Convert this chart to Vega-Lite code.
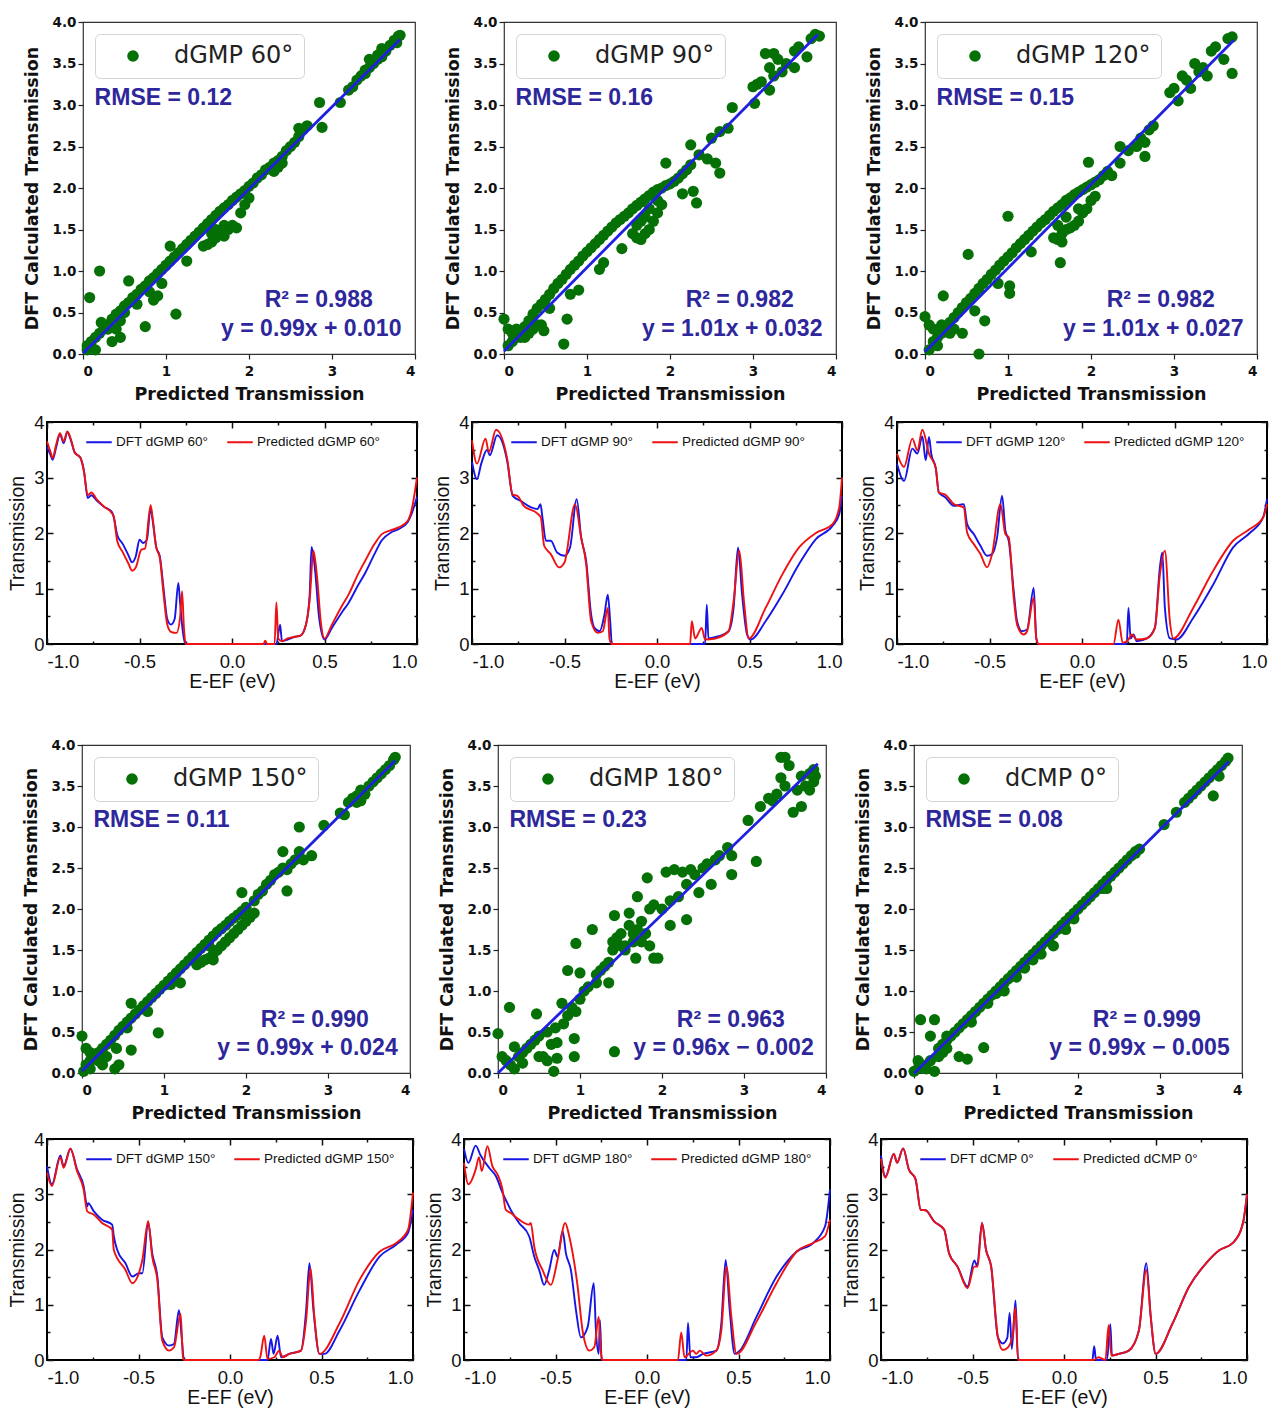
{
"$schema": "https://vega.github.io/schema/vega-lite/v6.json",
"padding": {"left": 6, "top": 14, "right": 2, "bottom": 2},
"background": "white",
"config": {
  "font": "Liberation Sans",
  "axis": {"grid": false},
  "style": {
    "sx": {"labelFont": "DejaVu Sans", "labelFontWeight": "bold", "labelFontSize": 13.5, "labelColor": "#111", "tickSize": 5, "tickColor": "#222", "tickWidth": 1.2, "domain": false, "labelPadding": 5, "titleFont": "DejaVu Sans", "titleFontSize": 17.5, "titleFontWeight": "bold", "titleColor": "#111", "titlePadding": 8},
    "sy": {"labelFont": "DejaVu Sans", "labelFontWeight": "bold", "labelFontSize": 13.5, "labelColor": "#111", "tickSize": 5, "tickColor": "#222", "tickWidth": 1.2, "domain": false, "labelPadding": 2, "titleFont": "DejaVu Sans", "titleFontSize": 17.5, "titleFontWeight": "bold", "titleColor": "#111", "titlePadding": 11},
    "lx": {"labelFont": "Liberation Sans", "labelFontSize": 18.5, "labelColor": "#111", "tickColor": "#111", "tickWidth": 1.5, "domain": false, "labelPadding": 14, "titleFont": "Liberation Sans", "titleFontSize": 19.5, "titleFontWeight": "normal", "titleColor": "#111", "titlePadding": 2},
    "ly": {"labelFont": "Liberation Sans", "labelFontSize": 18.5, "labelColor": "#111", "tickColor": "#111", "tickWidth": 1.5, "domain": false, "labelPadding": 9, "titleFont": "Liberation Sans", "titleFontSize": 19.5, "titleFontWeight": "normal", "titleColor": "#111", "titlePadding": 6}
  },
  "legend": {"orient": "top-left", "offset": 12, "padding": 10, "fillColor": "white", "strokeColor": "#d4d4d4", "cornerRadius": 5, "symbolOffset": 16, "labelOffset": 29, "labelFont": "DejaVu Sans", "labelFontSize": 24, "labelColor": "#222", "symbolSize": 135, "symbolType": "circle"}
},
"datasets": {
"s60": [{"x":0.05,"y":0.1},{"x":0.1,"y":0.15},{"x":0.15,"y":0.2},{"x":0.2,"y":0.25},{"x":0.25,"y":0.3},{"x":0.3,"y":0.35},{"x":0.35,"y":0.42},{"x":0.4,"y":0.48},{"x":0.45,"y":0.52},{"x":0.5,"y":0.58},{"x":0.55,"y":0.62},{"x":0.6,"y":0.68},{"x":0.65,"y":0.72},{"x":0.7,"y":0.78},{"x":0.75,"y":0.82},{"x":0.8,"y":0.88},{"x":0.85,"y":0.92},{"x":0.9,"y":0.97},{"x":0.95,"y":1.02},{"x":1.0,"y":1.07},{"x":1.05,"y":1.12},{"x":1.1,"y":1.17},{"x":1.15,"y":1.22},{"x":1.2,"y":1.27},{"x":1.25,"y":1.32},{"x":1.3,"y":1.37},{"x":1.35,"y":1.42},{"x":1.4,"y":1.47},{"x":1.45,"y":1.52},{"x":1.5,"y":1.57},{"x":1.55,"y":1.62},{"x":1.6,"y":1.67},{"x":1.65,"y":1.72},{"x":1.7,"y":1.76},{"x":1.75,"y":1.8},{"x":1.8,"y":1.85},{"x":1.85,"y":1.89},{"x":1.9,"y":1.93},{"x":1.95,"y":1.97},{"x":2.0,"y":2.02},{"x":2.05,"y":2.06},{"x":2.1,"y":2.12},{"x":2.15,"y":2.16},{"x":2.2,"y":2.22},{"x":2.25,"y":2.25},{"x":2.3,"y":2.3},{"x":2.35,"y":2.33},{"x":2.4,"y":2.38},{"x":2.45,"y":2.45},{"x":2.5,"y":2.5},{"x":2.55,"y":2.55},{"x":2.6,"y":2.62},{"x":1.45,"y":1.3},{"x":1.5,"y":1.32},{"x":1.55,"y":1.35},{"x":1.6,"y":1.4},{"x":1.65,"y":1.45},{"x":1.7,"y":1.42},{"x":1.75,"y":1.5},{"x":1.8,"y":1.55},{"x":1.85,"y":1.52},{"x":1.9,"y":1.7},{"x":1.95,"y":1.8},{"x":1.7,"y":1.55},{"x":1.6,"y":1.5},{"x":2.0,"y":1.88},{"x":1.55,"y":1.45},{"x":2.35,"y":2.25},{"x":2.4,"y":2.3},{"x":2.3,"y":2.2},{"x":2.6,"y":2.72},{"x":2.65,"y":2.7},{"x":2.7,"y":2.75},{"x":0.08,"y":0.68},{"x":0.2,"y":1.0},{"x":0.55,"y":0.88},{"x":0.75,"y":0.33},{"x":1.12,"y":0.48},{"x":1.25,"y":1.12},{"x":0.45,"y":0.2},{"x":0.35,"y":0.15},{"x":0.85,"y":0.65},{"x":0.95,"y":0.85},{"x":0.65,"y":0.6},{"x":0.22,"y":0.38},{"x":0.45,"y":0.4},{"x":0.5,"y":0.5},{"x":0.3,"y":0.3},{"x":1.05,"y":1.3},{"x":0.8,"y":0.75},{"x":0.9,"y":0.7},{"x":2.85,"y":3.03},{"x":2.88,"y":2.73},{"x":3.1,"y":3.03},{"x":0.05,"y":0.05},{"x":0.15,"y":0.05},{"x":0.4,"y":0.3},{"x":3.2,"y":3.18},{"x":3.25,"y":3.22},{"x":3.3,"y":3.3},{"x":3.35,"y":3.35},{"x":3.4,"y":3.42},{"x":3.45,"y":3.45},{"x":3.45,"y":3.55},{"x":3.5,"y":3.5},{"x":3.55,"y":3.6},{"x":3.6,"y":3.68},{"x":3.6,"y":3.58},{"x":3.65,"y":3.65},{"x":3.7,"y":3.72},{"x":3.75,"y":3.78},{"x":3.8,"y":3.83},{"x":3.78,"y":3.75},{"x":3.82,"y":3.84},{"x":3.4,"y":3.38},{"x":3.55,"y":3.55}],
"s90": [{"x":0.05,"y":0.1},{"x":0.1,"y":0.15},{"x":0.15,"y":0.2},{"x":0.2,"y":0.27},{"x":0.25,"y":0.33},{"x":0.3,"y":0.4},{"x":0.35,"y":0.48},{"x":0.4,"y":0.55},{"x":0.45,"y":0.6},{"x":0.5,"y":0.66},{"x":0.55,"y":0.72},{"x":0.6,"y":0.79},{"x":0.65,"y":0.85},{"x":0.7,"y":0.9},{"x":0.75,"y":0.96},{"x":0.8,"y":1.02},{"x":0.85,"y":1.07},{"x":0.9,"y":1.12},{"x":0.95,"y":1.18},{"x":1.0,"y":1.23},{"x":1.05,"y":1.28},{"x":1.1,"y":1.33},{"x":1.15,"y":1.38},{"x":1.2,"y":1.43},{"x":1.25,"y":1.48},{"x":1.3,"y":1.53},{"x":1.35,"y":1.58},{"x":1.4,"y":1.62},{"x":1.45,"y":1.66},{"x":1.5,"y":1.7},{"x":1.55,"y":1.75},{"x":1.6,"y":1.79},{"x":1.65,"y":1.83},{"x":1.7,"y":1.87},{"x":1.75,"y":1.91},{"x":1.8,"y":1.95},{"x":1.85,"y":1.98},{"x":1.9,"y":2.0},{"x":1.95,"y":2.03},{"x":2.0,"y":2.05},{"x":2.05,"y":2.08},{"x":2.1,"y":2.12},{"x":2.15,"y":2.17},{"x":2.2,"y":2.22},{"x":2.25,"y":2.28},{"x":1.55,"y":1.45},{"x":1.6,"y":1.4},{"x":1.65,"y":1.38},{"x":1.7,"y":1.45},{"x":1.75,"y":1.5},{"x":1.8,"y":1.6},{"x":1.85,"y":1.7},{"x":1.9,"y":1.8},{"x":1.6,"y":1.55},{"x":1.65,"y":1.6},{"x":1.7,"y":1.65},{"x":1.75,"y":1.75},{"x":1.85,"y":1.85},{"x":0.2,"y":0.2},{"x":0.3,"y":0.25},{"x":0.4,"y":0.35},{"x":0.0,"y":0.42},{"x":0.05,"y":0.3},{"x":0.1,"y":0.25},{"x":0.15,"y":0.3},{"x":0.3,"y":0.28},{"x":0.45,"y":0.35},{"x":0.48,"y":0.28},{"x":0.55,"y":0.55},{"x":0.72,"y":0.12},{"x":0.76,"y":0.42},{"x":0.8,"y":0.72},{"x":0.9,"y":0.77},{"x":1.15,"y":1.02},{"x":1.2,"y":1.1},{"x":1.42,"y":1.27},{"x":1.95,"y":2.3},{"x":2.15,"y":1.93},{"x":2.28,"y":1.96},{"x":2.32,"y":1.82},{"x":2.25,"y":2.52},{"x":2.35,"y":2.4},{"x":2.45,"y":2.35},{"x":2.55,"y":2.3},{"x":2.6,"y":2.18},{"x":2.5,"y":2.6},{"x":2.6,"y":2.68},{"x":2.7,"y":2.72},{"x":2.75,"y":2.97},{"x":3.0,"y":3.22},{"x":3.05,"y":3.25},{"x":3.1,"y":3.28},{"x":3.15,"y":3.62},{"x":3.25,"y":3.62},{"x":3.2,"y":3.45},{"x":3.2,"y":3.18},{"x":3.3,"y":3.55},{"x":3.35,"y":3.4},{"x":3.25,"y":3.35},{"x":3.5,"y":3.65},{"x":3.55,"y":3.7},{"x":3.5,"y":3.45},{"x":3.65,"y":3.58},{"x":3.7,"y":3.8},{"x":3.75,"y":3.85},{"x":3.8,"y":3.83},{"x":3.02,"y":3.02},{"x":3.4,"y":3.5},{"x":0.25,"y":0.2},{"x":0.35,"y":0.3}],
"s120": [{"x":0.1,"y":0.15},{"x":0.15,"y":0.2},{"x":0.2,"y":0.25},{"x":0.25,"y":0.32},{"x":0.3,"y":0.38},{"x":0.35,"y":0.44},{"x":0.4,"y":0.5},{"x":0.45,"y":0.56},{"x":0.5,"y":0.62},{"x":0.55,"y":0.67},{"x":0.6,"y":0.73},{"x":0.65,"y":0.79},{"x":0.7,"y":0.85},{"x":0.75,"y":0.9},{"x":0.8,"y":0.96},{"x":0.85,"y":1.01},{"x":0.9,"y":1.07},{"x":0.95,"y":1.12},{"x":1.0,"y":1.17},{"x":1.05,"y":1.22},{"x":1.1,"y":1.28},{"x":1.15,"y":1.33},{"x":1.2,"y":1.38},{"x":1.25,"y":1.43},{"x":1.3,"y":1.48},{"x":1.35,"y":1.53},{"x":1.4,"y":1.58},{"x":1.45,"y":1.62},{"x":1.5,"y":1.67},{"x":1.55,"y":1.72},{"x":1.6,"y":1.76},{"x":1.65,"y":1.8},{"x":1.7,"y":1.85},{"x":1.75,"y":1.88},{"x":1.8,"y":1.92},{"x":1.85,"y":1.95},{"x":1.9,"y":1.98},{"x":1.95,"y":2.01},{"x":2.0,"y":2.04},{"x":2.05,"y":2.07},{"x":2.1,"y":2.1},{"x":2.15,"y":2.15},{"x":2.2,"y":2.2},{"x":1.55,"y":1.4},{"x":1.6,"y":1.38},{"x":1.65,"y":1.45},{"x":1.7,"y":1.5},{"x":1.75,"y":1.52},{"x":1.8,"y":1.55},{"x":1.85,"y":1.6},{"x":1.9,"y":1.7},{"x":1.95,"y":1.75},{"x":2.0,"y":1.85},{"x":2.05,"y":1.9},{"x":1.7,"y":1.65},{"x":1.85,"y":1.75},{"x":1.65,"y":1.35},{"x":1.63,"y":1.1},{"x":1.6,"y":1.55},{"x":0.0,"y":0.45},{"x":0.05,"y":0.35},{"x":0.1,"y":0.3},{"x":0.2,"y":0.35},{"x":0.22,"y":0.7},{"x":0.25,"y":0.28},{"x":0.35,"y":0.3},{"x":0.45,"y":0.25},{"x":0.52,"y":1.2},{"x":0.6,"y":0.52},{"x":0.72,"y":0.4},{"x":0.65,"y":0.0},{"x":0.88,"y":0.85},{"x":1.0,"y":1.66},{"x":1.02,"y":0.82},{"x":1.02,"y":0.73},{"x":1.28,"y":1.23},{"x":1.97,"y":2.31},{"x":2.25,"y":2.15},{"x":2.35,"y":2.3},{"x":2.35,"y":2.5},{"x":2.45,"y":2.45},{"x":2.55,"y":2.5},{"x":2.6,"y":2.6},{"x":2.65,"y":2.55},{"x":2.65,"y":2.38},{"x":2.7,"y":2.7},{"x":2.75,"y":2.75},{"x":2.95,"y":3.15},{"x":3.0,"y":3.2},{"x":3.05,"y":3.05},{"x":3.1,"y":3.35},{"x":3.15,"y":3.3},{"x":3.2,"y":3.2},{"x":3.25,"y":3.5},{"x":3.3,"y":3.4},{"x":3.35,"y":3.45},{"x":3.4,"y":3.35},{"x":3.45,"y":3.65},{"x":3.5,"y":3.7},{"x":3.6,"y":3.55},{"x":3.65,"y":3.8},{"x":3.7,"y":3.82},{"x":3.7,"y":3.38},{"x":0.05,"y":0.05},{"x":0.15,"y":0.1},{"x":0.3,"y":0.25}],
"s150": [{"x":0.05,"y":0.1},{"x":0.1,"y":0.15},{"x":0.15,"y":0.2},{"x":0.2,"y":0.25},{"x":0.25,"y":0.3},{"x":0.3,"y":0.35},{"x":0.35,"y":0.4},{"x":0.4,"y":0.46},{"x":0.45,"y":0.52},{"x":0.5,"y":0.57},{"x":0.55,"y":0.62},{"x":0.6,"y":0.67},{"x":0.65,"y":0.72},{"x":0.7,"y":0.77},{"x":0.75,"y":0.82},{"x":0.8,"y":0.87},{"x":0.85,"y":0.92},{"x":0.9,"y":0.97},{"x":0.95,"y":1.02},{"x":1.0,"y":1.07},{"x":1.05,"y":1.12},{"x":1.1,"y":1.17},{"x":1.15,"y":1.22},{"x":1.2,"y":1.27},{"x":1.25,"y":1.32},{"x":1.3,"y":1.37},{"x":1.35,"y":1.42},{"x":1.4,"y":1.47},{"x":1.45,"y":1.52},{"x":1.5,"y":1.57},{"x":1.55,"y":1.62},{"x":1.6,"y":1.67},{"x":1.65,"y":1.72},{"x":1.7,"y":1.76},{"x":1.75,"y":1.8},{"x":1.8,"y":1.85},{"x":1.85,"y":1.89},{"x":1.9,"y":1.93},{"x":1.95,"y":1.97},{"x":2.0,"y":2.02},{"x":2.1,"y":2.1},{"x":2.15,"y":2.18},{"x":2.2,"y":2.22},{"x":2.25,"y":2.3},{"x":2.3,"y":2.35},{"x":2.35,"y":2.42},{"x":2.4,"y":2.45},{"x":2.5,"y":2.48},{"x":2.55,"y":2.55},{"x":2.6,"y":2.6},{"x":1.4,"y":1.32},{"x":1.45,"y":1.35},{"x":1.5,"y":1.38},{"x":1.55,"y":1.4},{"x":1.6,"y":1.45},{"x":1.65,"y":1.5},{"x":1.7,"y":1.55},{"x":1.75,"y":1.6},{"x":1.8,"y":1.65},{"x":1.85,"y":1.7},{"x":1.9,"y":1.75},{"x":1.95,"y":1.8},{"x":2.0,"y":1.85},{"x":2.05,"y":1.9},{"x":1.35,"y":1.38},{"x":1.55,"y":1.55},{"x":1.6,"y":1.38},{"x":0.0,"y":0.45},{"x":0.05,"y":0.3},{"x":0.1,"y":0.25},{"x":0.15,"y":0.2},{"x":0.2,"y":0.15},{"x":0.25,"y":0.1},{"x":0.4,"y":0.05},{"x":0.45,"y":0.1},{"x":0.42,"y":0.3},{"x":0.3,"y":0.2},{"x":0.6,"y":0.28},{"x":0.55,"y":0.55},{"x":0.6,"y":0.85},{"x":0.8,"y":0.75},{"x":0.93,"y":0.49},{"x":1.2,"y":1.1},{"x":1.08,"y":1.08},{"x":1.95,"y":2.2},{"x":2.1,"y":1.95},{"x":2.45,"y":2.5},{"x":2.5,"y":2.22},{"x":2.45,"y":2.7},{"x":2.65,"y":3.0},{"x":2.65,"y":2.7},{"x":2.7,"y":2.6},{"x":2.8,"y":2.65},{"x":2.95,"y":3.02},{"x":3.15,"y":3.17},{"x":3.2,"y":3.15},{"x":3.25,"y":3.3},{"x":3.3,"y":3.35},{"x":3.35,"y":3.38},{"x":3.4,"y":3.45},{"x":3.45,"y":3.4},{"x":3.5,"y":3.5},{"x":3.55,"y":3.55},{"x":3.6,"y":3.6},{"x":3.65,"y":3.65},{"x":3.7,"y":3.7},{"x":3.75,"y":3.75},{"x":3.8,"y":3.82},{"x":3.82,"y":3.85},{"x":3.35,"y":3.3},{"x":3.4,"y":3.32},{"x":0.02,"y":0.02},{"x":0.1,"y":0.05}],
"s180": [{"x":0.0,"y":0.48},{"x":0.05,"y":0.2},{"x":0.1,"y":0.15},{"x":0.15,"y":0.1},{"x":0.14,"y":0.8},{"x":0.2,"y":0.32},{"x":0.25,"y":0.2},{"x":0.3,"y":0.25},{"x":0.35,"y":0.3},{"x":0.4,"y":0.35},{"x":0.45,"y":0.4},{"x":0.47,"y":0.72},{"x":0.5,"y":0.2},{"x":0.55,"y":0.2},{"x":0.6,"y":0.15},{"x":0.65,"y":0.35},{"x":0.68,"y":0.02},{"x":0.72,"y":0.37},{"x":0.72,"y":0.18},{"x":0.78,"y":0.85},{"x":0.8,"y":0.6},{"x":0.85,"y":0.7},{"x":0.85,"y":1.25},{"x":0.9,"y":0.8},{"x":0.93,"y":0.42},{"x":0.93,"y":0.2},{"x":0.95,"y":0.75},{"x":0.95,"y":1.58},{"x":1.0,"y":1.22},{"x":1.0,"y":0.9},{"x":1.05,"y":1.0},{"x":1.1,"y":1.05},{"x":1.15,"y":1.75},{"x":1.2,"y":1.2},{"x":1.3,"y":1.3},{"x":1.35,"y":1.1},{"x":1.4,"y":1.5},{"x":1.4,"y":1.6},{"x":1.42,"y":1.92},{"x":1.45,"y":1.65},{"x":1.5,"y":1.7},{"x":1.55,"y":1.5},{"x":1.6,"y":1.8},{"x":1.6,"y":1.95},{"x":1.65,"y":1.6},{"x":1.68,"y":1.4},{"x":1.7,"y":2.15},{"x":1.75,"y":1.85},{"x":1.8,"y":1.7},{"x":1.82,"y":2.38},{"x":1.85,"y":2.0},{"x":1.85,"y":1.55},{"x":1.9,"y":1.4},{"x":1.9,"y":2.05},{"x":1.95,"y":1.4},{"x":2.0,"y":2.0},{"x":2.05,"y":2.45},{"x":2.1,"y":1.8},{"x":2.1,"y":2.1},{"x":2.15,"y":2.48},{"x":2.2,"y":2.15},{"x":2.25,"y":2.45},{"x":2.3,"y":1.87},{"x":2.3,"y":2.3},{"x":2.4,"y":2.42},{"x":2.45,"y":2.2},{"x":2.5,"y":2.5},{"x":2.6,"y":2.3},{"x":2.65,"y":2.6},{"x":2.8,"y":2.75},{"x":2.85,"y":2.42},{"x":2.85,"y":2.65},{"x":3.05,"y":3.08},{"x":3.15,"y":2.58},{"x":3.2,"y":3.25},{"x":3.3,"y":3.35},{"x":3.35,"y":3.32},{"x":3.4,"y":3.4},{"x":3.45,"y":3.6},{"x":3.5,"y":3.5},{"x":3.45,"y":3.85},{"x":3.5,"y":3.85},{"x":3.55,"y":3.75},{"x":3.6,"y":3.18},{"x":3.65,"y":3.45},{"x":3.7,"y":3.25},{"x":3.7,"y":3.62},{"x":3.75,"y":3.5},{"x":3.8,"y":3.45},{"x":3.8,"y":3.65},{"x":3.85,"y":3.55},{"x":3.85,"y":3.7},{"x":3.87,"y":3.62},{"x":1.42,"y":0.26},{"x":0.3,"y":0.12},{"x":0.2,"y":0.05},{"x":0.6,"y":0.5},{"x":0.7,"y":0.55},{"x":0.5,"y":0.45},{"x":1.2,"y":1.1},{"x":1.25,"y":1.25},{"x":1.35,"y":1.35},{"x":1.5,"y":1.55},{"x":1.55,"y":1.55},{"x":1.65,"y":1.7},{"x":1.7,"y":1.75},{"x":1.75,"y":1.6},{"x":2.35,"y":2.48},{"x":2.55,"y":2.55},{"x":2.7,"y":2.65}],
"s0": [{"x":0.3,"y":0.3},{"x":0.35,"y":0.35},{"x":0.4,"y":0.4},{"x":0.45,"y":0.45},{"x":0.5,"y":0.5},{"x":0.55,"y":0.55},{"x":0.6,"y":0.6},{"x":0.65,"y":0.65},{"x":0.7,"y":0.7},{"x":0.75,"y":0.75},{"x":0.8,"y":0.8},{"x":0.85,"y":0.85},{"x":0.9,"y":0.9},{"x":0.95,"y":0.95},{"x":1.0,"y":1.0},{"x":1.05,"y":1.05},{"x":1.1,"y":1.1},{"x":1.15,"y":1.15},{"x":1.2,"y":1.2},{"x":1.25,"y":1.25},{"x":1.3,"y":1.3},{"x":1.35,"y":1.35},{"x":1.4,"y":1.4},{"x":1.45,"y":1.45},{"x":1.5,"y":1.5},{"x":1.55,"y":1.55},{"x":1.6,"y":1.6},{"x":1.65,"y":1.65},{"x":1.7,"y":1.7},{"x":1.75,"y":1.75},{"x":1.8,"y":1.8},{"x":1.85,"y":1.85},{"x":1.9,"y":1.9},{"x":1.95,"y":1.95},{"x":2.0,"y":2.0},{"x":2.05,"y":2.05},{"x":2.1,"y":2.1},{"x":2.15,"y":2.15},{"x":2.2,"y":2.2},{"x":2.25,"y":2.25},{"x":2.3,"y":2.3},{"x":2.35,"y":2.35},{"x":2.4,"y":2.4},{"x":2.45,"y":2.45},{"x":2.5,"y":2.5},{"x":2.55,"y":2.55},{"x":2.6,"y":2.6},{"x":2.65,"y":2.65},{"x":2.7,"y":2.7},{"x":2.75,"y":2.73},{"x":3.05,"y":3.03},{"x":3.2,"y":3.18},{"x":3.3,"y":3.3},{"x":3.35,"y":3.35},{"x":3.4,"y":3.4},{"x":3.45,"y":3.45},{"x":3.5,"y":3.5},{"x":3.55,"y":3.55},{"x":3.6,"y":3.6},{"x":3.65,"y":3.65},{"x":3.7,"y":3.7},{"x":3.75,"y":3.75},{"x":3.8,"y":3.8},{"x":3.83,"y":3.84},{"x":0.9,"y":0.85},{"x":1.0,"y":0.97},{"x":1.25,"y":1.17},{"x":1.45,"y":1.38},{"x":1.55,"y":1.45},{"x":1.7,"y":1.55},{"x":1.85,"y":1.75},{"x":1.95,"y":1.88},{"x":2.3,"y":2.25},{"x":2.35,"y":2.25},{"x":2.7,"y":2.68},{"x":0.7,"y":0.62},{"x":1.1,"y":1.0},{"x":1.35,"y":1.28},{"x":0.08,"y":0.65},{"x":0.25,"y":0.65},{"x":0.2,"y":0.45},{"x":0.05,"y":0.15},{"x":0.1,"y":0.1},{"x":0.15,"y":0.05},{"x":0.25,"y":0.02},{"x":0.3,"y":0.2},{"x":0.35,"y":0.25},{"x":0.4,"y":0.3},{"x":0.55,"y":0.2},{"x":0.65,"y":0.17},{"x":0.85,"y":0.31},{"x":0.4,"y":0.45},{"x":0.0,"y":0.02},{"x":0.05,"y":0.05},{"x":0.2,"y":0.15},{"x":3.65,"y":3.38},{"x":3.72,"y":3.62}],
"l60": [{"s":"D","x":-1,"y":3.55},{"s":"D","x":-0.98,"y":3.4},{"s":"D","x":-0.97,"y":3.32},{"s":"D","x":-0.95,"y":3.55},{"s":"D","x":-0.93,"y":3.78},{"s":"D","x":-0.91,"y":3.62},{"s":"D","x":-0.89,"y":3.82},{"s":"D","x":-0.87,"y":3.66},{"s":"D","x":-0.85,"y":3.45},{"s":"D","x":-0.82,"y":3.36},{"s":"D","x":-0.8,"y":3.12},{"s":"D","x":-0.78,"y":2.63},{"s":"D","x":-0.76,"y":2.68},{"s":"D","x":-0.73,"y":2.58},{"s":"D","x":-0.69,"y":2.47},{"s":"D","x":-0.65,"y":2.38},{"s":"D","x":-0.64,"y":2.3},{"s":"D","x":-0.62,"y":1.96},{"s":"D","x":-0.59,"y":1.8},{"s":"D","x":-0.56,"y":1.6},{"s":"D","x":-0.54,"y":1.47},{"s":"D","x":-0.52,"y":1.58},{"s":"D","x":-0.5,"y":1.88},{"s":"D","x":-0.48,"y":1.82},{"s":"D","x":-0.46,"y":1.88},{"s":"D","x":-0.44,"y":2.45},{"s":"D","x":-0.43,"y":2.25},{"s":"D","x":-0.41,"y":1.75},{"s":"D","x":-0.39,"y":1.58},{"s":"D","x":-0.37,"y":1.0},{"s":"D","x":-0.35,"y":0.45},{"s":"D","x":-0.33,"y":0.35},{"s":"D","x":-0.31,"y":0.45},{"s":"D","x":-0.29,"y":1.1},{"s":"D","x":-0.28,"y":0.72},{"s":"D","x":-0.27,"y":0.35},{"s":"D","x":-0.26,"y":0.1},{"s":"D","x":-0.25,"y":0},{"s":"D","x":0.24,"y":0},{"s":"D","x":0.26,"y":0.35},{"s":"D","x":0.27,"y":0.05},{"s":"D","x":0.3,"y":0.08},{"s":"D","x":0.34,"y":0.13},{"s":"D","x":0.37,"y":0.15},{"s":"D","x":0.4,"y":0.35},{"s":"D","x":0.42,"y":0.9},{"s":"D","x":0.43,"y":1.75},{"s":"D","x":0.45,"y":1.3},{"s":"D","x":0.47,"y":0.5},{"s":"D","x":0.5,"y":0.08},{"s":"D","x":0.54,"y":0.29},{"s":"D","x":0.6,"y":0.6},{"s":"D","x":0.63,"y":0.74},{"s":"D","x":0.68,"y":1.05},{"s":"D","x":0.72,"y":1.28},{"s":"D","x":0.77,"y":1.62},{"s":"D","x":0.81,"y":1.87},{"s":"D","x":0.86,"y":2.01},{"s":"D","x":0.9,"y":2.07},{"s":"D","x":0.95,"y":2.2},{"s":"D","x":0.97,"y":2.34},{"s":"D","x":1,"y":2.65},
{"s":"P","x":-1,"y":3.65},{"s":"P","x":-0.98,"y":3.45},{"s":"P","x":-0.97,"y":3.35},{"s":"P","x":-0.95,"y":3.6},{"s":"P","x":-0.93,"y":3.8},{"s":"P","x":-0.91,"y":3.65},{"s":"P","x":-0.89,"y":3.83},{"s":"P","x":-0.87,"y":3.68},{"s":"P","x":-0.85,"y":3.45},{"s":"P","x":-0.82,"y":3.36},{"s":"P","x":-0.8,"y":3.1},{"s":"P","x":-0.78,"y":2.68},{"s":"P","x":-0.76,"y":2.73},{"s":"P","x":-0.73,"y":2.6},{"s":"P","x":-0.69,"y":2.47},{"s":"P","x":-0.65,"y":2.36},{"s":"P","x":-0.64,"y":2.3},{"s":"P","x":-0.62,"y":1.85},{"s":"P","x":-0.59,"y":1.65},{"s":"P","x":-0.56,"y":1.45},{"s":"P","x":-0.54,"y":1.32},{"s":"P","x":-0.52,"y":1.38},{"s":"P","x":-0.49,"y":1.7},{"s":"P","x":-0.47,"y":1.72},{"s":"P","x":-0.44,"y":2.5},{"s":"P","x":-0.43,"y":2.3},{"s":"P","x":-0.41,"y":1.75},{"s":"P","x":-0.39,"y":1.55},{"s":"P","x":-0.37,"y":0.9},{"s":"P","x":-0.35,"y":0.35},{"s":"P","x":-0.33,"y":0.22},{"s":"P","x":-0.3,"y":0.2},{"s":"P","x":-0.28,"y":0.5},{"s":"P","x":-0.27,"y":0.95},{"s":"P","x":-0.26,"y":0.3},{"s":"P","x":-0.25,"y":0},{"s":"P","x":0.17,"y":0},{"s":"P","x":0.18,"y":0.06},{"s":"P","x":0.19,"y":0},{"s":"P","x":0.23,"y":0},{"s":"P","x":0.24,"y":0.75},{"s":"P","x":0.25,"y":0.1},{"s":"P","x":0.27,"y":0.05},{"s":"P","x":0.3,"y":0.1},{"s":"P","x":0.34,"y":0.13},{"s":"P","x":0.37,"y":0.15},{"s":"P","x":0.4,"y":0.35},{"s":"P","x":0.42,"y":0.8},{"s":"P","x":0.44,"y":1.68},{"s":"P","x":0.46,"y":1.2},{"s":"P","x":0.48,"y":0.4},{"s":"P","x":0.5,"y":0.1},{"s":"P","x":0.54,"y":0.35},{"s":"P","x":0.6,"y":0.72},{"s":"P","x":0.63,"y":0.89},{"s":"P","x":0.68,"y":1.25},{"s":"P","x":0.72,"y":1.5},{"s":"P","x":0.77,"y":1.8},{"s":"P","x":0.81,"y":1.98},{"s":"P","x":0.86,"y":2.05},{"s":"P","x":0.9,"y":2.1},{"s":"P","x":0.95,"y":2.22},{"s":"P","x":0.97,"y":2.4},{"s":"P","x":1,"y":3.0}],
"l90": [{"s":"D","x":-1,"y":3.28},{"s":"D","x":-0.973,"y":2.97},{"s":"D","x":-0.95,"y":3.25},{"s":"D","x":-0.918,"y":3.5},{"s":"D","x":-0.904,"y":3.4},{"s":"D","x":-0.864,"y":3.76},{"s":"D","x":-0.81,"y":3.3},{"s":"D","x":-0.78,"y":2.67},{"s":"D","x":-0.737,"y":2.58},{"s":"D","x":-0.68,"y":2.46},{"s":"D","x":-0.646,"y":2.43},{"s":"D","x":-0.63,"y":2.52},{"s":"D","x":-0.62,"y":2.3},{"s":"D","x":-0.6,"y":1.86},{"s":"D","x":-0.574,"y":1.86},{"s":"D","x":-0.54,"y":1.65},{"s":"D","x":-0.5,"y":1.59},{"s":"D","x":-0.47,"y":1.74},{"s":"D","x":-0.434,"y":2.61},{"s":"D","x":-0.41,"y":1.92},{"s":"D","x":-0.383,"y":1.5},{"s":"D","x":-0.356,"y":0.53},{"s":"D","x":-0.338,"y":0.29},{"s":"D","x":-0.31,"y":0.23},{"s":"D","x":-0.284,"y":0.53},{"s":"D","x":-0.266,"y":0.89},{"s":"D","x":-0.253,"y":0.41},{"s":"D","x":-0.244,"y":0},{"s":"D","x":0.26,"y":0},{"s":"D","x":0.269,"y":0.71},{"s":"D","x":0.278,"y":0.1},{"s":"D","x":0.333,"y":0.14},{"s":"D","x":0.387,"y":0.23},{"s":"D","x":0.414,"y":0.65},{"s":"D","x":0.438,"y":1.74},{"s":"D","x":0.46,"y":0.89},{"s":"D","x":0.487,"y":0.17},{"s":"D","x":0.505,"y":0.08},{"s":"D","x":0.587,"y":0.41},{"s":"D","x":0.677,"y":0.89},{"s":"D","x":0.768,"y":1.44},{"s":"D","x":0.859,"y":1.89},{"s":"D","x":0.949,"y":2.13},{"s":"D","x":0.985,"y":2.34},{"s":"D","x":1,"y":2.67},
{"s":"P","x":-1,"y":3.67},{"s":"P","x":-0.973,"y":3.25},{"s":"P","x":-0.927,"y":3.7},{"s":"P","x":-0.909,"y":3.46},{"s":"P","x":-0.87,"y":3.86},{"s":"P","x":-0.81,"y":3.34},{"s":"P","x":-0.78,"y":2.69},{"s":"P","x":-0.755,"y":2.67},{"s":"P","x":-0.72,"y":2.49},{"s":"P","x":-0.646,"y":2.35},{"s":"P","x":-0.628,"y":2.28},{"s":"P","x":-0.61,"y":1.77},{"s":"P","x":-0.574,"y":1.62},{"s":"P","x":-0.53,"y":1.38},{"s":"P","x":-0.5,"y":1.47},{"s":"P","x":-0.443,"y":2.52},{"s":"P","x":-0.41,"y":1.92},{"s":"P","x":-0.383,"y":1.44},{"s":"P","x":-0.356,"y":0.41},{"s":"P","x":-0.32,"y":0.2},{"s":"P","x":-0.293,"y":0.23},{"s":"P","x":-0.266,"y":0.65},{"s":"P","x":-0.257,"y":0.1},{"s":"P","x":-0.244,"y":0},{"s":"P","x":0.179,"y":0},{"s":"P","x":0.188,"y":0.41},{"s":"P","x":0.206,"y":0.1},{"s":"P","x":0.242,"y":0.29},{"s":"P","x":0.26,"y":0.08},{"s":"P","x":0.315,"y":0.1},{"s":"P","x":0.387,"y":0.23},{"s":"P","x":0.414,"y":0.77},{"s":"P","x":0.445,"y":1.68},{"s":"P","x":0.47,"y":0.77},{"s":"P","x":0.496,"y":0.1},{"s":"P","x":0.587,"y":0.65},{"s":"P","x":0.677,"y":1.25},{"s":"P","x":0.768,"y":1.74},{"s":"P","x":0.859,"y":2.0},{"s":"P","x":0.949,"y":2.16},{"s":"P","x":0.985,"y":2.46},{"s":"P","x":1,"y":3.0}],
"l120": [{"s":"D","x":-1,"y":3.25},{"s":"D","x":-0.962,"y":2.94},{"s":"D","x":-0.917,"y":3.52},{"s":"D","x":-0.89,"y":3.43},{"s":"D","x":-0.863,"y":3.74},{"s":"D","x":-0.845,"y":3.31},{"s":"D","x":-0.827,"y":3.73},{"s":"D","x":-0.815,"y":3.43},{"s":"D","x":-0.79,"y":3.16},{"s":"D","x":-0.774,"y":2.73},{"s":"D","x":-0.738,"y":2.64},{"s":"D","x":-0.693,"y":2.49},{"s":"D","x":-0.639,"y":2.52},{"s":"D","x":-0.621,"y":2.16},{"s":"D","x":-0.585,"y":1.98},{"s":"D","x":-0.549,"y":1.77},{"s":"D","x":-0.513,"y":1.59},{"s":"D","x":-0.486,"y":1.62},{"s":"D","x":-0.459,"y":1.92},{"s":"D","x":-0.432,"y":2.67},{"s":"D","x":-0.414,"y":2.04},{"s":"D","x":-0.396,"y":1.86},{"s":"D","x":-0.369,"y":0.95},{"s":"D","x":-0.351,"y":0.41},{"s":"D","x":-0.324,"y":0.23},{"s":"D","x":-0.297,"y":0.26},{"s":"D","x":-0.261,"y":1.01},{"s":"D","x":-0.247,"y":0.1},{"s":"D","x":-0.234,"y":0},{"s":"D","x":0.242,"y":0},{"s":"D","x":0.251,"y":0.65},{"s":"D","x":0.263,"y":0.1},{"s":"D","x":0.278,"y":0.17},{"s":"D","x":0.296,"y":0.05},{"s":"D","x":0.35,"y":0.1},{"s":"D","x":0.394,"y":0.29},{"s":"D","x":0.421,"y":1.38},{"s":"D","x":0.434,"y":1.65},{"s":"D","x":0.448,"y":0.65},{"s":"D","x":0.475,"y":0.1},{"s":"D","x":0.511,"y":0.08},{"s":"D","x":0.601,"y":0.47},{"s":"D","x":0.709,"y":1.07},{"s":"D","x":0.817,"y":1.74},{"s":"D","x":0.907,"y":2.0},{"s":"D","x":0.979,"y":2.28},{"s":"D","x":1,"y":2.61},
{"s":"P","x":-1,"y":3.43},{"s":"P","x":-0.962,"y":3.19},{"s":"P","x":-0.917,"y":3.7},{"s":"P","x":-0.89,"y":3.49},{"s":"P","x":-0.863,"y":3.86},{"s":"P","x":-0.827,"y":3.43},{"s":"P","x":-0.79,"y":3.16},{"s":"P","x":-0.774,"y":2.73},{"s":"P","x":-0.738,"y":2.69},{"s":"P","x":-0.693,"y":2.52},{"s":"P","x":-0.639,"y":2.46},{"s":"P","x":-0.621,"y":2.01},{"s":"P","x":-0.585,"y":1.8},{"s":"P","x":-0.549,"y":1.62},{"s":"P","x":-0.513,"y":1.38},{"s":"P","x":-0.486,"y":1.62},{"s":"P","x":-0.441,"y":2.52},{"s":"P","x":-0.414,"y":1.98},{"s":"P","x":-0.396,"y":1.92},{"s":"P","x":-0.369,"y":0.83},{"s":"P","x":-0.351,"y":0.35},{"s":"P","x":-0.315,"y":0.17},{"s":"P","x":-0.297,"y":0.23},{"s":"P","x":-0.261,"y":0.83},{"s":"P","x":-0.247,"y":0.1},{"s":"P","x":-0.234,"y":0},{"s":"P","x":0.17,"y":0},{"s":"P","x":0.197,"y":0.44},{"s":"P","x":0.22,"y":0.02},{"s":"P","x":0.251,"y":0.08},{"s":"P","x":0.269,"y":0.17},{"s":"P","x":0.296,"y":0.08},{"s":"P","x":0.35,"y":0.1},{"s":"P","x":0.394,"y":0.29},{"s":"P","x":0.421,"y":1.25},{"s":"P","x":0.448,"y":1.68},{"s":"P","x":0.475,"y":0.41},{"s":"P","x":0.493,"y":0.1},{"s":"P","x":0.601,"y":0.65},{"s":"P","x":0.709,"y":1.32},{"s":"P","x":0.817,"y":1.86},{"s":"P","x":0.907,"y":2.07},{"s":"P","x":0.979,"y":2.28},{"s":"P","x":1,"y":2.52}],
"l150": [{"s":"D","x":-1,"y":3.51},{"s":"D","x":-0.973,"y":3.18},{"s":"D","x":-0.927,"y":3.7},{"s":"D","x":-0.909,"y":3.51},{"s":"D","x":-0.872,"y":3.82},{"s":"D","x":-0.836,"y":3.45},{"s":"D","x":-0.8,"y":3.15},{"s":"D","x":-0.78,"y":2.78},{"s":"D","x":-0.775,"y":2.84},{"s":"D","x":-0.744,"y":2.69},{"s":"D","x":-0.699,"y":2.54},{"s":"D","x":-0.644,"y":2.45},{"s":"D","x":-0.635,"y":2.24},{"s":"D","x":-0.616,"y":1.99},{"s":"D","x":-0.571,"y":1.75},{"s":"D","x":-0.534,"y":1.51},{"s":"D","x":-0.498,"y":1.57},{"s":"D","x":-0.479,"y":1.57},{"s":"D","x":-0.447,"y":2.48},{"s":"D","x":-0.425,"y":1.93},{"s":"D","x":-0.397,"y":1.51},{"s":"D","x":-0.37,"y":0.41},{"s":"D","x":-0.333,"y":0.26},{"s":"D","x":-0.306,"y":0.29},{"s":"D","x":-0.279,"y":0.9},{"s":"D","x":-0.264,"y":0.41},{"s":"D","x":-0.251,"y":0},{"s":"D","x":0.205,"y":0},{"s":"D","x":0.224,"y":0.38},{"s":"D","x":0.238,"y":0.11},{"s":"D","x":0.26,"y":0.44},{"s":"D","x":0.279,"y":0.05},{"s":"D","x":0.324,"y":0.11},{"s":"D","x":0.388,"y":0.17},{"s":"D","x":0.416,"y":0.9},{"s":"D","x":0.434,"y":1.75},{"s":"D","x":0.456,"y":0.9},{"s":"D","x":0.489,"y":0.11},{"s":"D","x":0.516,"y":0.11},{"s":"D","x":0.598,"y":0.53},{"s":"D","x":0.708,"y":1.26},{"s":"D","x":0.817,"y":1.87},{"s":"D","x":0.909,"y":2.09},{"s":"D","x":0.973,"y":2.3},{"s":"D","x":1,"y":2.72},
{"s":"P","x":-1,"y":3.39},{"s":"P","x":-0.973,"y":3.15},{"s":"P","x":-0.927,"y":3.67},{"s":"P","x":-0.909,"y":3.48},{"s":"P","x":-0.872,"y":3.83},{"s":"P","x":-0.836,"y":3.42},{"s":"P","x":-0.8,"y":3.09},{"s":"P","x":-0.78,"y":2.69},{"s":"P","x":-0.744,"y":2.63},{"s":"P","x":-0.699,"y":2.48},{"s":"P","x":-0.644,"y":2.36},{"s":"P","x":-0.635,"y":1.99},{"s":"P","x":-0.571,"y":1.63},{"s":"P","x":-0.534,"y":1.39},{"s":"P","x":-0.498,"y":1.57},{"s":"P","x":-0.479,"y":1.81},{"s":"P","x":-0.447,"y":2.51},{"s":"P","x":-0.425,"y":1.87},{"s":"P","x":-0.397,"y":1.45},{"s":"P","x":-0.37,"y":0.35},{"s":"P","x":-0.333,"y":0.17},{"s":"P","x":-0.306,"y":0.23},{"s":"P","x":-0.27,"y":0.84},{"s":"P","x":-0.257,"y":0.05},{"s":"P","x":-0.251,"y":0},{"s":"P","x":0.156,"y":0},{"s":"P","x":0.165,"y":0.05},{"s":"P","x":0.187,"y":0.44},{"s":"P","x":0.205,"y":0.02},{"s":"P","x":0.242,"y":0.05},{"s":"P","x":0.269,"y":0.17},{"s":"P","x":0.288,"y":0.05},{"s":"P","x":0.324,"y":0.11},{"s":"P","x":0.388,"y":0.17},{"s":"P","x":0.416,"y":0.72},{"s":"P","x":0.44,"y":1.66},{"s":"P","x":0.461,"y":0.78},{"s":"P","x":0.489,"y":0.11},{"s":"P","x":0.598,"y":0.66},{"s":"P","x":0.708,"y":1.45},{"s":"P","x":0.817,"y":1.96},{"s":"P","x":0.909,"y":2.12},{"s":"P","x":0.973,"y":2.36},{"s":"P","x":1,"y":3.03}],
"l180": [{"s":"D","x":-1,"y":3.82},{"s":"D","x":-0.976,"y":3.57},{"s":"D","x":-0.936,"y":3.88},{"s":"D","x":-0.909,"y":3.7},{"s":"D","x":-0.863,"y":3.48},{"s":"D","x":-0.826,"y":3.33},{"s":"D","x":-0.79,"y":3.03},{"s":"D","x":-0.763,"y":2.84},{"s":"D","x":-0.735,"y":2.66},{"s":"D","x":-0.699,"y":2.48},{"s":"D","x":-0.644,"y":2.24},{"s":"D","x":-0.616,"y":1.87},{"s":"D","x":-0.589,"y":1.63},{"s":"D","x":-0.562,"y":1.36},{"s":"D","x":-0.534,"y":1.63},{"s":"D","x":-0.507,"y":1.99},{"s":"D","x":-0.489,"y":1.87},{"s":"D","x":-0.461,"y":2.33},{"s":"D","x":-0.443,"y":1.93},{"s":"D","x":-0.416,"y":1.63},{"s":"D","x":-0.388,"y":0.9},{"s":"D","x":-0.361,"y":0.41},{"s":"D","x":-0.324,"y":0.6},{"s":"D","x":-0.291,"y":1.39},{"s":"D","x":-0.279,"y":0.53},{"s":"D","x":-0.264,"y":0.11},{"s":"D","x":-0.257,"y":0.72},{"s":"D","x":-0.248,"y":0},{"s":"D","x":0.215,"y":0},{"s":"D","x":0.224,"y":0.67},{"s":"D","x":0.237,"y":0.05},{"s":"D","x":0.269,"y":0.05},{"s":"D","x":0.306,"y":0.11},{"s":"D","x":0.379,"y":0.17},{"s":"D","x":0.406,"y":0.66},{"s":"D","x":0.43,"y":1.81},{"s":"D","x":0.452,"y":0.9},{"s":"D","x":0.479,"y":0.11},{"s":"D","x":0.507,"y":0.17},{"s":"D","x":0.598,"y":0.78},{"s":"D","x":0.708,"y":1.51},{"s":"D","x":0.817,"y":1.96},{"s":"D","x":0.909,"y":2.12},{"s":"D","x":0.973,"y":2.42},{"s":"D","x":1,"y":3.09},
{"s":"P","x":-1,"y":3.57},{"s":"P","x":-0.976,"y":3.18},{"s":"P","x":-0.936,"y":3.45},{"s":"P","x":-0.918,"y":3.67},{"s":"P","x":-0.903,"y":3.42},{"s":"P","x":-0.872,"y":3.87},{"s":"P","x":-0.845,"y":3.51},{"s":"P","x":-0.817,"y":3.36},{"s":"P","x":-0.79,"y":3.09},{"s":"P","x":-0.772,"y":2.72},{"s":"P","x":-0.744,"y":2.66},{"s":"P","x":-0.699,"y":2.54},{"s":"P","x":-0.644,"y":2.45},{"s":"P","x":-0.635,"y":2.48},{"s":"P","x":-0.616,"y":2.05},{"s":"P","x":-0.571,"y":1.63},{"s":"P","x":-0.525,"y":1.36},{"s":"P","x":-0.489,"y":1.81},{"s":"P","x":-0.447,"y":2.48},{"s":"P","x":-0.425,"y":2.24},{"s":"P","x":-0.406,"y":1.93},{"s":"P","x":-0.379,"y":1.33},{"s":"P","x":-0.352,"y":0.53},{"s":"P","x":-0.315,"y":0.17},{"s":"P","x":-0.288,"y":0.23},{"s":"P","x":-0.264,"y":0.78},{"s":"P","x":-0.251,"y":0.11},{"s":"P","x":-0.242,"y":0},{"s":"P","x":0.169,"y":0},{"s":"P","x":0.187,"y":0.5},{"s":"P","x":0.205,"y":0.05},{"s":"P","x":0.251,"y":0.17},{"s":"P","x":0.269,"y":0.11},{"s":"P","x":0.288,"y":0.17},{"s":"P","x":0.324,"y":0.08},{"s":"P","x":0.379,"y":0.17},{"s":"P","x":0.406,"y":0.53},{"s":"P","x":0.434,"y":1.69},{"s":"P","x":0.461,"y":0.78},{"s":"P","x":0.489,"y":0.11},{"s":"P","x":0.598,"y":0.69},{"s":"P","x":0.708,"y":1.39},{"s":"P","x":0.817,"y":1.96},{"s":"P","x":0.909,"y":2.12},{"s":"P","x":0.973,"y":2.24},{"s":"P","x":1,"y":2.54}],
"l0": [{"s":"D","x":-1,"y":3.7},{"s":"D","x":-0.976,"y":3.32},{"s":"D","x":-0.93,"y":3.73},{"s":"D","x":-0.912,"y":3.57},{"s":"D","x":-0.879,"y":3.83},{"s":"D","x":-0.848,"y":3.45},{"s":"D","x":-0.811,"y":3.27},{"s":"D","x":-0.783,"y":2.72},{"s":"D","x":-0.756,"y":2.71},{"s":"D","x":-0.71,"y":2.51},{"s":"D","x":-0.655,"y":2.36},{"s":"D","x":-0.628,"y":1.93},{"s":"D","x":-0.582,"y":1.69},{"s":"D","x":-0.527,"y":1.33},{"s":"D","x":-0.49,"y":1.8},{"s":"D","x":-0.475,"y":1.7},{"s":"D","x":-0.448,"y":2.48},{"s":"D","x":-0.426,"y":1.99},{"s":"D","x":-0.398,"y":1.69},{"s":"D","x":-0.361,"y":0.41},{"s":"D","x":-0.334,"y":0.3},{"s":"D","x":-0.31,"y":0.4},{"s":"D","x":-0.297,"y":0.85},{"s":"D","x":-0.285,"y":0.2},{"s":"D","x":-0.265,"y":1.08},{"s":"D","x":-0.251,"y":0},{"s":"D","x":0.155,"y":0},{"s":"D","x":0.165,"y":0.25},{"s":"D","x":0.175,"y":0},{"s":"D","x":0.235,"y":0},{"s":"D","x":0.253,"y":0.65},{"s":"D","x":0.262,"y":0.08},{"s":"D","x":0.299,"y":0.11},{"s":"D","x":0.354,"y":0.17},{"s":"D","x":0.409,"y":0.53},{"s":"D","x":0.45,"y":1.75},{"s":"D","x":0.474,"y":0.78},{"s":"D","x":0.501,"y":0.11},{"s":"D","x":0.593,"y":0.66},{"s":"D","x":0.684,"y":1.33},{"s":"D","x":0.776,"y":1.75},{"s":"D","x":0.85,"y":1.99},{"s":"D","x":0.923,"y":2.12},{"s":"D","x":0.978,"y":2.48},{"s":"D","x":1,"y":3.0},
{"s":"P","x":-1,"y":3.64},{"s":"P","x":-0.976,"y":3.3},{"s":"P","x":-0.93,"y":3.73},{"s":"P","x":-0.912,"y":3.57},{"s":"P","x":-0.879,"y":3.83},{"s":"P","x":-0.848,"y":3.45},{"s":"P","x":-0.811,"y":3.27},{"s":"P","x":-0.783,"y":2.72},{"s":"P","x":-0.756,"y":2.71},{"s":"P","x":-0.71,"y":2.51},{"s":"P","x":-0.655,"y":2.36},{"s":"P","x":-0.628,"y":1.93},{"s":"P","x":-0.582,"y":1.69},{"s":"P","x":-0.527,"y":1.3},{"s":"P","x":-0.49,"y":1.69},{"s":"P","x":-0.472,"y":1.69},{"s":"P","x":-0.448,"y":2.48},{"s":"P","x":-0.426,"y":1.99},{"s":"P","x":-0.398,"y":1.69},{"s":"P","x":-0.361,"y":0.41},{"s":"P","x":-0.334,"y":0.18},{"s":"P","x":-0.306,"y":0.23},{"s":"P","x":-0.28,"y":0.45},{"s":"P","x":-0.266,"y":0.95},{"s":"P","x":-0.251,"y":0},{"s":"P","x":0.161,"y":0},{"s":"P","x":0.189,"y":0.05},{"s":"P","x":0.226,"y":0},{"s":"P","x":0.244,"y":0.63},{"s":"P","x":0.259,"y":0.08},{"s":"P","x":0.299,"y":0.11},{"s":"P","x":0.354,"y":0.17},{"s":"P","x":0.409,"y":0.53},{"s":"P","x":0.45,"y":1.63},{"s":"P","x":0.474,"y":0.78},{"s":"P","x":0.501,"y":0.11},{"s":"P","x":0.593,"y":0.66},{"s":"P","x":0.684,"y":1.33},{"s":"P","x":0.776,"y":1.75},{"s":"P","x":0.85,"y":1.99},{"s":"P","x":0.923,"y":2.12},{"s":"P","x":0.978,"y":2.48},{"s":"P","x":1,"y":3.0}]
},
"vconcat": [
 {"vconcat": [
  {"hconcat": [
    {"width": 1, "height": 1, "view": {"stroke": null}, "data": {"values": [{}]}, "mark": {"type": "text"}, "encoding": {"text": {"value": ""}}},
    {"hconcat": [
      {"width": 332, "height": 332, "view": {"stroke": "#333", "strokeWidth": 1.2}, "layer": [
        {"data": {"name": "s60"}, "mark": {"type": "circle", "size": 125, "opacity": 1}, "encoding": {
          "x": {"field": "x", "type": "quantitative", "scale": {"domain": [0, 4], "nice": false}, "axis": {"style": "sx", "values": [0,1,2,3,4], "format": "d", "title": "Predicted Transmission"}},
          "y": {"field": "y", "type": "quantitative", "scale": {"domain": [0, 4], "nice": false}, "axis": {"style": "sy", "values": [0,0.5,1,1.5,2,2.5,3,3.5,4], "format": ".1f", "title": "DFT Calculated Transmission"}},
          "color": {"datum": "dGMP 60°", "type": "nominal", "scale": {"range": ["#057005"]}, "legend": {"title": null}}}},
        {"data": {"values": [{"x": 0, "y": 0.01}, {"x": 3.82, "y": 3.79}]}, "mark": {"type": "line", "color": "#2020e0", "strokeWidth": 2.8}, "encoding": {"x": {"field": "x", "type": "quantitative"}, "y": {"field": "y", "type": "quantitative"}}},
        {"data": {"values": [{}]}, "mark": {"type": "text", "align": "left", "baseline": "middle", "font": "Liberation Sans", "fontWeight": "bold", "fontSize": 23, "color": "#2e279c"}, "encoding": {"x": {"datum": 0.14}, "y": {"datum": 3.08}, "text": {"value": "RMSE = 0.12"}}},
        {"data": {"values": [{}]}, "mark": {"type": "text", "align": "center", "baseline": "middle", "font": "Liberation Sans", "fontWeight": "bold", "fontSize": 23, "color": "#2e279c"}, "encoding": {"x": {"datum": 2.84}, "y": {"datum": 0.65}, "text": {"value": "R² = 0.988"}}},
        {"data": {"values": [{}]}, "mark": {"type": "text", "align": "center", "baseline": "middle", "font": "Liberation Sans", "fontWeight": "bold", "fontSize": 23, "color": "#2e279c"}, "encoding": {"x": {"datum": 2.75}, "y": {"datum": 0.3}, "text": {"value": "y = 0.99x + 0.010"}}}
      ]},
      {"width": 332, "height": 332, "view": {"stroke": "#333", "strokeWidth": 1.2}, "layer": [
        {"data": {"name": "s90"}, "mark": {"type": "circle", "size": 125, "opacity": 1}, "encoding": {
          "x": {"field": "x", "type": "quantitative", "scale": {"domain": [0, 4], "nice": false}, "axis": {"style": "sx", "values": [0,1,2,3,4], "format": "d", "title": "Predicted Transmission"}},
          "y": {"field": "y", "type": "quantitative", "scale": {"domain": [0, 4], "nice": false}, "axis": {"style": "sy", "values": [0,0.5,1,1.5,2,2.5,3,3.5,4], "format": ".1f", "title": "DFT Calculated Transmission"}},
          "color": {"datum": "dGMP 90°", "type": "nominal", "scale": {"range": ["#057005"]}, "legend": {"title": null}}}},
        {"data": {"values": [{"x": 0, "y": 0.032}, {"x": 3.78, "y": 3.85}]}, "mark": {"type": "line", "color": "#2020e0", "strokeWidth": 2.8}, "encoding": {"x": {"field": "x", "type": "quantitative"}, "y": {"field": "y", "type": "quantitative"}}},
        {"data": {"values": [{}]}, "mark": {"type": "text", "align": "left", "baseline": "middle", "font": "Liberation Sans", "fontWeight": "bold", "fontSize": 23, "color": "#2e279c"}, "encoding": {"x": {"datum": 0.14}, "y": {"datum": 3.08}, "text": {"value": "RMSE = 0.16"}}},
        {"data": {"values": [{}]}, "mark": {"type": "text", "align": "center", "baseline": "middle", "font": "Liberation Sans", "fontWeight": "bold", "fontSize": 23, "color": "#2e279c"}, "encoding": {"x": {"datum": 2.84}, "y": {"datum": 0.65}, "text": {"value": "R² = 0.982"}}},
        {"data": {"values": [{}]}, "mark": {"type": "text", "align": "center", "baseline": "middle", "font": "Liberation Sans", "fontWeight": "bold", "fontSize": 23, "color": "#2e279c"}, "encoding": {"x": {"datum": 2.75}, "y": {"datum": 0.3}, "text": {"value": "y = 1.01x + 0.032"}}}
      ]},
      {"width": 332, "height": 332, "view": {"stroke": "#333", "strokeWidth": 1.2}, "layer": [
        {"data": {"name": "s120"}, "mark": {"type": "circle", "size": 125, "opacity": 1}, "encoding": {
          "x": {"field": "x", "type": "quantitative", "scale": {"domain": [0, 4], "nice": false}, "axis": {"style": "sx", "values": [0,1,2,3,4], "format": "d", "title": "Predicted Transmission"}},
          "y": {"field": "y", "type": "quantitative", "scale": {"domain": [0, 4], "nice": false}, "axis": {"style": "sy", "values": [0,0.5,1,1.5,2,2.5,3,3.5,4], "format": ".1f", "title": "DFT Calculated Transmission"}},
          "color": {"datum": "dGMP 120°", "type": "nominal", "scale": {"range": ["#057005"]}, "legend": {"title": null}}}},
        {"data": {"values": [{"x": 0, "y": 0.027}, {"x": 3.72, "y": 3.78}]}, "mark": {"type": "line", "color": "#2020e0", "strokeWidth": 2.8}, "encoding": {"x": {"field": "x", "type": "quantitative"}, "y": {"field": "y", "type": "quantitative"}}},
        {"data": {"values": [{}]}, "mark": {"type": "text", "align": "left", "baseline": "middle", "font": "Liberation Sans", "fontWeight": "bold", "fontSize": 23, "color": "#2e279c"}, "encoding": {"x": {"datum": 0.14}, "y": {"datum": 3.08}, "text": {"value": "RMSE = 0.15"}}},
        {"data": {"values": [{}]}, "mark": {"type": "text", "align": "center", "baseline": "middle", "font": "Liberation Sans", "fontWeight": "bold", "fontSize": 23, "color": "#2e279c"}, "encoding": {"x": {"datum": 2.84}, "y": {"datum": 0.65}, "text": {"value": "R² = 0.982"}}},
        {"data": {"values": [{}]}, "mark": {"type": "text", "align": "center", "baseline": "middle", "font": "Liberation Sans", "fontWeight": "bold", "fontSize": 23, "color": "#2e279c"}, "encoding": {"x": {"datum": 2.75}, "y": {"datum": 0.3}, "text": {"value": "y = 1.01x + 0.027"}}}
      ]}
    ], "spacing": 89, "bounds": "flush", "resolve": {"scale": {"color": "independent"}, "legend": {"color": "independent"}}}
  ], "spacing": 35, "bounds": "flush", "resolve": {"scale": {"color": "independent"}, "legend": {"color": "independent"}}},
  {"hconcat": [
    {"width": 370, "height": 222, "view": {"stroke": "black", "strokeWidth": 2}, "data": {"name": "l60"}, "layer": [
      {"mark": {"type": "line", "strokeWidth": 1.9, "interpolate": "monotone"}, "encoding": {
        "x": {"field": "x", "type": "quantitative", "scale": {"domain": [-1, 1], "nice": false}, "axis": {"style": "lx", "orient": "bottom", "values": [-1,-0.75,-0.5,-0.25,0,0.25,0.5,0.75,1], "labelExpr": "abs(datum.value*2-round(datum.value*2))<0.01 ? replace(format(datum.value,'.1f'),'−','-') : ''", "tickSize": {"condition": {"test": "abs(datum.value*2-round(datum.value*2))<0.01", "value": -6}, "value": -3}, "title": "E-EF (eV)"}},
        "y": {"field": "y", "type": "quantitative", "scale": {"domain": [0, 4], "nice": false}, "axis": {"style": "ly", "orient": "left", "values": [0,0.5,1,1.5,2,2.5,3,3.5,4], "labelExpr": "abs(datum.value-round(datum.value))<0.01 ? format(datum.value,'d') : ''", "tickSize": {"condition": {"test": "abs(datum.value-round(datum.value))<0.01", "value": -6}, "value": -3}, "title": "Transmission"}},
        "color": {"field": "s", "type": "nominal", "scale": {"domain": ["D", "P"], "range": ["#1515e6", "#ee1111"]}, "legend": {"orient": "none", "legendX": 38, "legendY": 6, "direction": "horizontal", "title": null, "padding": 0, "fillColor": "transparent", "strokeColor": "transparent", "symbolOffset": 0, "symbolType": "stroke", "symbolSize": 650, "symbolStrokeWidth": 2, "labelOffset": 3, "labelFont": "Liberation Sans", "labelFontSize": 13.5, "labelColor": "#111", "columnPadding": 14, "labelLimit": 300, "labelExpr": "datum.label == 'D' ? 'DFT dGMP 60°' : 'Predicted dGMP 60°'"}}}},
      {"mark": {"type": "line", "strokeOpacity": 0}, "encoding": {
        "x": {"field": "x", "type": "quantitative", "axis": {"style": "lx", "orient": "top", "values": [-1,-0.75,-0.5,-0.25,0,0.25,0.5,0.75,1], "labels": false, "title": null, "tickSize": {"condition": {"test": "abs(datum.value*2-round(datum.value*2))<0.01", "value": -6}, "value": -3}}},
        "y": {"field": "y", "type": "quantitative", "axis": {"style": "ly", "orient": "right", "values": [0,0.5,1,1.5,2,2.5,3,3.5,4], "labels": false, "title": null, "tickSize": {"condition": {"test": "abs(datum.value-round(datum.value))<0.01", "value": -6}, "value": -3}}}}}
    ], "resolve": {"axis": {"x": "independent", "y": "independent"}}},
    {"width": 370, "height": 222, "view": {"stroke": "black", "strokeWidth": 2}, "data": {"name": "l90"}, "layer": [
      {"mark": {"type": "line", "strokeWidth": 1.9, "interpolate": "monotone"}, "encoding": {
        "x": {"field": "x", "type": "quantitative", "scale": {"domain": [-1, 1], "nice": false}, "axis": {"style": "lx", "orient": "bottom", "values": [-1,-0.75,-0.5,-0.25,0,0.25,0.5,0.75,1], "labelExpr": "abs(datum.value*2-round(datum.value*2))<0.01 ? replace(format(datum.value,'.1f'),'−','-') : ''", "tickSize": {"condition": {"test": "abs(datum.value*2-round(datum.value*2))<0.01", "value": -6}, "value": -3}, "title": "E-EF (eV)"}},
        "y": {"field": "y", "type": "quantitative", "scale": {"domain": [0, 4], "nice": false}, "axis": {"style": "ly", "orient": "left", "values": [0,0.5,1,1.5,2,2.5,3,3.5,4], "labelExpr": "abs(datum.value-round(datum.value))<0.01 ? format(datum.value,'d') : ''", "tickSize": {"condition": {"test": "abs(datum.value-round(datum.value))<0.01", "value": -6}, "value": -3}, "title": "Transmission"}},
        "color": {"field": "s", "type": "nominal", "scale": {"domain": ["D", "P"], "range": ["#1515e6", "#ee1111"]}, "legend": {"orient": "none", "legendX": 38, "legendY": 6, "direction": "horizontal", "title": null, "padding": 0, "fillColor": "transparent", "strokeColor": "transparent", "symbolOffset": 0, "symbolType": "stroke", "symbolSize": 650, "symbolStrokeWidth": 2, "labelOffset": 3, "labelFont": "Liberation Sans", "labelFontSize": 13.5, "labelColor": "#111", "columnPadding": 14, "labelLimit": 300, "labelExpr": "datum.label == 'D' ? 'DFT dGMP 90°' : 'Predicted dGMP 90°'"}}}},
      {"mark": {"type": "line", "strokeOpacity": 0}, "encoding": {
        "x": {"field": "x", "type": "quantitative", "axis": {"style": "lx", "orient": "top", "values": [-1,-0.75,-0.5,-0.25,0,0.25,0.5,0.75,1], "labels": false, "title": null, "tickSize": {"condition": {"test": "abs(datum.value*2-round(datum.value*2))<0.01", "value": -6}, "value": -3}}},
        "y": {"field": "y", "type": "quantitative", "axis": {"style": "ly", "orient": "right", "values": [0,0.5,1,1.5,2,2.5,3,3.5,4], "labels": false, "title": null, "tickSize": {"condition": {"test": "abs(datum.value-round(datum.value))<0.01", "value": -6}, "value": -3}}}}}
    ], "resolve": {"axis": {"x": "independent", "y": "independent"}}},
    {"width": 370, "height": 222, "view": {"stroke": "black", "strokeWidth": 2}, "data": {"name": "l120"}, "layer": [
      {"mark": {"type": "line", "strokeWidth": 1.9, "interpolate": "monotone"}, "encoding": {
        "x": {"field": "x", "type": "quantitative", "scale": {"domain": [-1, 1], "nice": false}, "axis": {"style": "lx", "orient": "bottom", "values": [-1,-0.75,-0.5,-0.25,0,0.25,0.5,0.75,1], "labelExpr": "abs(datum.value*2-round(datum.value*2))<0.01 ? replace(format(datum.value,'.1f'),'−','-') : ''", "tickSize": {"condition": {"test": "abs(datum.value*2-round(datum.value*2))<0.01", "value": -6}, "value": -3}, "title": "E-EF (eV)"}},
        "y": {"field": "y", "type": "quantitative", "scale": {"domain": [0, 4], "nice": false}, "axis": {"style": "ly", "orient": "left", "values": [0,0.5,1,1.5,2,2.5,3,3.5,4], "labelExpr": "abs(datum.value-round(datum.value))<0.01 ? format(datum.value,'d') : ''", "tickSize": {"condition": {"test": "abs(datum.value-round(datum.value))<0.01", "value": -6}, "value": -3}, "title": "Transmission"}},
        "color": {"field": "s", "type": "nominal", "scale": {"domain": ["D", "P"], "range": ["#1515e6", "#ee1111"]}, "legend": {"orient": "none", "legendX": 38, "legendY": 6, "direction": "horizontal", "title": null, "padding": 0, "fillColor": "transparent", "strokeColor": "transparent", "symbolOffset": 0, "symbolType": "stroke", "symbolSize": 650, "symbolStrokeWidth": 2, "labelOffset": 3, "labelFont": "Liberation Sans", "labelFontSize": 13.5, "labelColor": "#111", "columnPadding": 14, "labelLimit": 300, "labelExpr": "datum.label == 'D' ? 'DFT dGMP 120°' : 'Predicted dGMP 120°'"}}}},
      {"mark": {"type": "line", "strokeOpacity": 0}, "encoding": {
        "x": {"field": "x", "type": "quantitative", "axis": {"style": "lx", "orient": "top", "values": [-1,-0.75,-0.5,-0.25,0,0.25,0.5,0.75,1], "labels": false, "title": null, "tickSize": {"condition": {"test": "abs(datum.value*2-round(datum.value*2))<0.01", "value": -6}, "value": -3}}},
        "y": {"field": "y", "type": "quantitative", "axis": {"style": "ly", "orient": "right", "values": [0,0.5,1,1.5,2,2.5,3,3.5,4], "labels": false, "title": null, "tickSize": {"condition": {"test": "abs(datum.value-round(datum.value))<0.01", "value": -6}, "value": -3}}}}}
    ], "resolve": {"axis": {"x": "independent", "y": "independent"}}}
  ], "spacing": 55, "bounds": "flush", "resolve": {"scale": {"color": "independent"}, "legend": {"color": "independent"}}}
 ], "spacing": 8, "resolve": {"scale": {"color": "independent"}, "legend": {"color": "independent"}}},
 {"vconcat": [
  {"hconcat": [
    {"width": 1, "height": 1, "view": {"stroke": null}, "data": {"values": [{}]}, "mark": {"type": "text"}, "encoding": {"text": {"value": ""}}},
    {"hconcat": [
      {"width": 328, "height": 328, "view": {"stroke": "#333", "strokeWidth": 1.2}, "layer": [
        {"data": {"name": "s150"}, "mark": {"type": "circle", "size": 125, "opacity": 1}, "encoding": {
          "x": {"field": "x", "type": "quantitative", "scale": {"domain": [0, 4], "nice": false}, "axis": {"style": "sx", "values": [0,1,2,3,4], "format": "d", "title": "Predicted Transmission"}},
          "y": {"field": "y", "type": "quantitative", "scale": {"domain": [0, 4], "nice": false}, "axis": {"style": "sy", "values": [0,0.5,1,1.5,2,2.5,3,3.5,4], "format": ".1f", "title": "DFT Calculated Transmission"}},
          "color": {"datum": "dGMP 150°", "type": "nominal", "scale": {"range": ["#057005"]}, "legend": {"title": null}}}},
        {"data": {"values": [{"x": 0, "y": 0.024}, {"x": 3.82, "y": 3.81}]}, "mark": {"type": "line", "color": "#2020e0", "strokeWidth": 2.8}, "encoding": {"x": {"field": "x", "type": "quantitative"}, "y": {"field": "y", "type": "quantitative"}}},
        {"data": {"values": [{}]}, "mark": {"type": "text", "align": "left", "baseline": "middle", "font": "Liberation Sans", "fontWeight": "bold", "fontSize": 23, "color": "#2e279c"}, "encoding": {"x": {"datum": 0.14}, "y": {"datum": 3.08}, "text": {"value": "RMSE = 0.11"}}},
        {"data": {"values": [{}]}, "mark": {"type": "text", "align": "center", "baseline": "middle", "font": "Liberation Sans", "fontWeight": "bold", "fontSize": 23, "color": "#2e279c"}, "encoding": {"x": {"datum": 2.84}, "y": {"datum": 0.65}, "text": {"value": "R² = 0.990"}}},
        {"data": {"values": [{}]}, "mark": {"type": "text", "align": "center", "baseline": "middle", "font": "Liberation Sans", "fontWeight": "bold", "fontSize": 23, "color": "#2e279c"}, "encoding": {"x": {"datum": 2.75}, "y": {"datum": 0.3}, "text": {"value": "y = 0.99x + 0.024"}}}
      ]},
      {"width": 328, "height": 328, "view": {"stroke": "#333", "strokeWidth": 1.2}, "layer": [
        {"data": {"name": "s180"}, "mark": {"type": "circle", "size": 125, "opacity": 1}, "encoding": {
          "x": {"field": "x", "type": "quantitative", "scale": {"domain": [0, 4], "nice": false}, "axis": {"style": "sx", "values": [0,1,2,3,4], "format": "d", "title": "Predicted Transmission"}},
          "y": {"field": "y", "type": "quantitative", "scale": {"domain": [0, 4], "nice": false}, "axis": {"style": "sy", "values": [0,0.5,1,1.5,2,2.5,3,3.5,4], "format": ".1f", "title": "DFT Calculated Transmission"}},
          "color": {"datum": "dGMP 180°", "type": "nominal", "scale": {"range": ["#057005"]}, "legend": {"title": null}}}},
        {"data": {"values": [{"x": 0, "y": 0.0}, {"x": 3.9, "y": 3.77}]}, "mark": {"type": "line", "color": "#2020e0", "strokeWidth": 2.8}, "encoding": {"x": {"field": "x", "type": "quantitative"}, "y": {"field": "y", "type": "quantitative"}}},
        {"data": {"values": [{}]}, "mark": {"type": "text", "align": "left", "baseline": "middle", "font": "Liberation Sans", "fontWeight": "bold", "fontSize": 23, "color": "#2e279c"}, "encoding": {"x": {"datum": 0.14}, "y": {"datum": 3.08}, "text": {"value": "RMSE = 0.23"}}},
        {"data": {"values": [{}]}, "mark": {"type": "text", "align": "center", "baseline": "middle", "font": "Liberation Sans", "fontWeight": "bold", "fontSize": 23, "color": "#2e279c"}, "encoding": {"x": {"datum": 2.84}, "y": {"datum": 0.65}, "text": {"value": "R² = 0.963"}}},
        {"data": {"values": [{}]}, "mark": {"type": "text", "align": "center", "baseline": "middle", "font": "Liberation Sans", "fontWeight": "bold", "fontSize": 23, "color": "#2e279c"}, "encoding": {"x": {"datum": 2.75}, "y": {"datum": 0.3}, "text": {"value": "y = 0.96x − 0.002"}}}
      ]},
      {"width": 328, "height": 328, "view": {"stroke": "#333", "strokeWidth": 1.2}, "layer": [
        {"data": {"name": "s0"}, "mark": {"type": "circle", "size": 125, "opacity": 1}, "encoding": {
          "x": {"field": "x", "type": "quantitative", "scale": {"domain": [0, 4], "nice": false}, "axis": {"style": "sx", "values": [0,1,2,3,4], "format": "d", "title": "Predicted Transmission"}},
          "y": {"field": "y", "type": "quantitative", "scale": {"domain": [0, 4], "nice": false}, "axis": {"style": "sy", "values": [0,0.5,1,1.5,2,2.5,3,3.5,4], "format": ".1f", "title": "DFT Calculated Transmission"}},
          "color": {"datum": "dCMP 0°", "type": "nominal", "scale": {"range": ["#057005"]}, "legend": {"title": null}}}},
        {"data": {"values": [{"x": 0, "y": -0.005}, {"x": 3.84, "y": 3.8}]}, "mark": {"type": "line", "color": "#2020e0", "strokeWidth": 2.8}, "encoding": {"x": {"field": "x", "type": "quantitative"}, "y": {"field": "y", "type": "quantitative"}}},
        {"data": {"values": [{}]}, "mark": {"type": "text", "align": "left", "baseline": "middle", "font": "Liberation Sans", "fontWeight": "bold", "fontSize": 23, "color": "#2e279c"}, "encoding": {"x": {"datum": 0.14}, "y": {"datum": 3.08}, "text": {"value": "RMSE = 0.08"}}},
        {"data": {"values": [{}]}, "mark": {"type": "text", "align": "center", "baseline": "middle", "font": "Liberation Sans", "fontWeight": "bold", "fontSize": 23, "color": "#2e279c"}, "encoding": {"x": {"datum": 2.84}, "y": {"datum": 0.65}, "text": {"value": "R² = 0.999"}}},
        {"data": {"values": [{}]}, "mark": {"type": "text", "align": "center", "baseline": "middle", "font": "Liberation Sans", "fontWeight": "bold", "fontSize": 23, "color": "#2e279c"}, "encoding": {"x": {"datum": 2.75}, "y": {"datum": 0.3}, "text": {"value": "y = 0.99x − 0.005"}}}
      ]}
    ], "spacing": 88, "bounds": "flush", "resolve": {"scale": {"color": "independent"}, "legend": {"color": "independent"}}}
  ], "spacing": 34, "bounds": "flush", "resolve": {"scale": {"color": "independent"}, "legend": {"color": "independent"}}},
  {"hconcat": [
    {"width": 366, "height": 221, "view": {"stroke": "black", "strokeWidth": 2}, "data": {"name": "l150"}, "layer": [
      {"mark": {"type": "line", "strokeWidth": 1.9, "interpolate": "monotone"}, "encoding": {
        "x": {"field": "x", "type": "quantitative", "scale": {"domain": [-1, 1], "nice": false}, "axis": {"style": "lx", "orient": "bottom", "values": [-1,-0.75,-0.5,-0.25,0,0.25,0.5,0.75,1], "labelExpr": "abs(datum.value*2-round(datum.value*2))<0.01 ? replace(format(datum.value,'.1f'),'−','-') : ''", "tickSize": {"condition": {"test": "abs(datum.value*2-round(datum.value*2))<0.01", "value": -6}, "value": -3}, "title": "E-EF (eV)"}},
        "y": {"field": "y", "type": "quantitative", "scale": {"domain": [0, 4], "nice": false}, "axis": {"style": "ly", "orient": "left", "values": [0,0.5,1,1.5,2,2.5,3,3.5,4], "labelExpr": "abs(datum.value-round(datum.value))<0.01 ? format(datum.value,'d') : ''", "tickSize": {"condition": {"test": "abs(datum.value-round(datum.value))<0.01", "value": -6}, "value": -3}, "title": "Transmission"}},
        "color": {"field": "s", "type": "nominal", "scale": {"domain": ["D", "P"], "range": ["#1515e6", "#ee1111"]}, "legend": {"orient": "none", "legendX": 38, "legendY": 6, "direction": "horizontal", "title": null, "padding": 0, "fillColor": "transparent", "strokeColor": "transparent", "symbolOffset": 0, "symbolType": "stroke", "symbolSize": 650, "symbolStrokeWidth": 2, "labelOffset": 3, "labelFont": "Liberation Sans", "labelFontSize": 13.5, "labelColor": "#111", "columnPadding": 14, "labelLimit": 300, "labelExpr": "datum.label == 'D' ? 'DFT dGMP 150°' : 'Predicted dGMP 150°'"}}}},
      {"mark": {"type": "line", "strokeOpacity": 0}, "encoding": {
        "x": {"field": "x", "type": "quantitative", "axis": {"style": "lx", "orient": "top", "values": [-1,-0.75,-0.5,-0.25,0,0.25,0.5,0.75,1], "labels": false, "title": null, "tickSize": {"condition": {"test": "abs(datum.value*2-round(datum.value*2))<0.01", "value": -6}, "value": -3}}},
        "y": {"field": "y", "type": "quantitative", "axis": {"style": "ly", "orient": "right", "values": [0,0.5,1,1.5,2,2.5,3,3.5,4], "labels": false, "title": null, "tickSize": {"condition": {"test": "abs(datum.value-round(datum.value))<0.01", "value": -6}, "value": -3}}}}}
    ], "resolve": {"axis": {"x": "independent", "y": "independent"}}},
    {"width": 366, "height": 221, "view": {"stroke": "black", "strokeWidth": 2}, "data": {"name": "l180"}, "layer": [
      {"mark": {"type": "line", "strokeWidth": 1.9, "interpolate": "monotone"}, "encoding": {
        "x": {"field": "x", "type": "quantitative", "scale": {"domain": [-1, 1], "nice": false}, "axis": {"style": "lx", "orient": "bottom", "values": [-1,-0.75,-0.5,-0.25,0,0.25,0.5,0.75,1], "labelExpr": "abs(datum.value*2-round(datum.value*2))<0.01 ? replace(format(datum.value,'.1f'),'−','-') : ''", "tickSize": {"condition": {"test": "abs(datum.value*2-round(datum.value*2))<0.01", "value": -6}, "value": -3}, "title": "E-EF (eV)"}},
        "y": {"field": "y", "type": "quantitative", "scale": {"domain": [0, 4], "nice": false}, "axis": {"style": "ly", "orient": "left", "values": [0,0.5,1,1.5,2,2.5,3,3.5,4], "labelExpr": "abs(datum.value-round(datum.value))<0.01 ? format(datum.value,'d') : ''", "tickSize": {"condition": {"test": "abs(datum.value-round(datum.value))<0.01", "value": -6}, "value": -3}, "title": "Transmission"}},
        "color": {"field": "s", "type": "nominal", "scale": {"domain": ["D", "P"], "range": ["#1515e6", "#ee1111"]}, "legend": {"orient": "none", "legendX": 38, "legendY": 6, "direction": "horizontal", "title": null, "padding": 0, "fillColor": "transparent", "strokeColor": "transparent", "symbolOffset": 0, "symbolType": "stroke", "symbolSize": 650, "symbolStrokeWidth": 2, "labelOffset": 3, "labelFont": "Liberation Sans", "labelFontSize": 13.5, "labelColor": "#111", "columnPadding": 14, "labelLimit": 300, "labelExpr": "datum.label == 'D' ? 'DFT dGMP 180°' : 'Predicted dGMP 180°'"}}}},
      {"mark": {"type": "line", "strokeOpacity": 0}, "encoding": {
        "x": {"field": "x", "type": "quantitative", "axis": {"style": "lx", "orient": "top", "values": [-1,-0.75,-0.5,-0.25,0,0.25,0.5,0.75,1], "labels": false, "title": null, "tickSize": {"condition": {"test": "abs(datum.value*2-round(datum.value*2))<0.01", "value": -6}, "value": -3}}},
        "y": {"field": "y", "type": "quantitative", "axis": {"style": "ly", "orient": "right", "values": [0,0.5,1,1.5,2,2.5,3,3.5,4], "labels": false, "title": null, "tickSize": {"condition": {"test": "abs(datum.value-round(datum.value))<0.01", "value": -6}, "value": -3}}}}}
    ], "resolve": {"axis": {"x": "independent", "y": "independent"}}},
    {"width": 366, "height": 221, "view": {"stroke": "black", "strokeWidth": 2}, "data": {"name": "l0"}, "layer": [
      {"mark": {"type": "line", "strokeWidth": 1.9, "interpolate": "monotone"}, "encoding": {
        "x": {"field": "x", "type": "quantitative", "scale": {"domain": [-1, 1], "nice": false}, "axis": {"style": "lx", "orient": "bottom", "values": [-1,-0.75,-0.5,-0.25,0,0.25,0.5,0.75,1], "labelExpr": "abs(datum.value*2-round(datum.value*2))<0.01 ? replace(format(datum.value,'.1f'),'−','-') : ''", "tickSize": {"condition": {"test": "abs(datum.value*2-round(datum.value*2))<0.01", "value": -6}, "value": -3}, "title": "E-EF (eV)"}},
        "y": {"field": "y", "type": "quantitative", "scale": {"domain": [0, 4], "nice": false}, "axis": {"style": "ly", "orient": "left", "values": [0,0.5,1,1.5,2,2.5,3,3.5,4], "labelExpr": "abs(datum.value-round(datum.value))<0.01 ? format(datum.value,'d') : ''", "tickSize": {"condition": {"test": "abs(datum.value-round(datum.value))<0.01", "value": -6}, "value": -3}, "title": "Transmission"}},
        "color": {"field": "s", "type": "nominal", "scale": {"domain": ["D", "P"], "range": ["#1515e6", "#ee1111"]}, "legend": {"orient": "none", "legendX": 38, "legendY": 6, "direction": "horizontal", "title": null, "padding": 0, "fillColor": "transparent", "strokeColor": "transparent", "symbolOffset": 0, "symbolType": "stroke", "symbolSize": 650, "symbolStrokeWidth": 2, "labelOffset": 3, "labelFont": "Liberation Sans", "labelFontSize": 13.5, "labelColor": "#111", "columnPadding": 14, "labelLimit": 300, "labelExpr": "datum.label == 'D' ? 'DFT dCMP 0°' : 'Predicted dCMP 0°'"}}}},
      {"mark": {"type": "line", "strokeOpacity": 0}, "encoding": {
        "x": {"field": "x", "type": "quantitative", "axis": {"style": "lx", "orient": "top", "values": [-1,-0.75,-0.5,-0.25,0,0.25,0.5,0.75,1], "labels": false, "title": null, "tickSize": {"condition": {"test": "abs(datum.value*2-round(datum.value*2))<0.01", "value": -6}, "value": -3}}},
        "y": {"field": "y", "type": "quantitative", "axis": {"style": "ly", "orient": "right", "values": [0,0.5,1,1.5,2,2.5,3,3.5,4], "labels": false, "title": null, "tickSize": {"condition": {"test": "abs(datum.value-round(datum.value))<0.01", "value": -6}, "value": -3}}}}}
    ], "resolve": {"axis": {"x": "independent", "y": "independent"}}}
  ], "spacing": 51, "bounds": "flush", "resolve": {"scale": {"color": "independent"}, "legend": {"color": "independent"}}}
 ], "spacing": 6, "resolve": {"scale": {"color": "independent"}, "legend": {"color": "independent"}}}
],
"spacing": 45,
"resolve": {"scale": {"color": "independent"}, "legend": {"color": "independent"}}
}
